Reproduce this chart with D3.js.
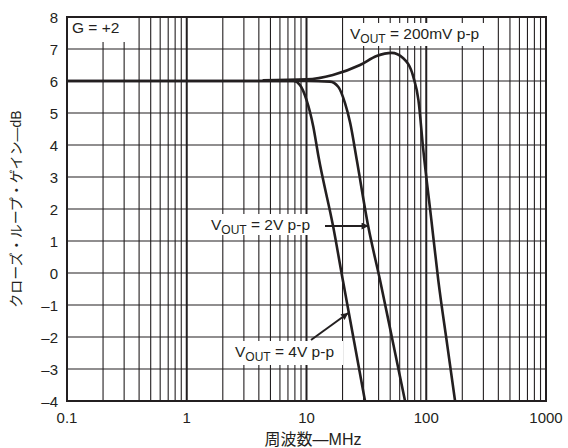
<!DOCTYPE html>
<html>
<head>
<meta charset="utf-8">
<script src="https://cdnjs.cloudflare.com/ajax/libs/d3/7.8.5/d3.min.js"></script>
<style>
  body { margin: 0; background: #fff; }
  text { font-family: "Liberation Sans", Arial, "Noto Sans CJK JP", sans-serif; fill: #231f20; }
</style>
</head>
<body>
<script>
// ===== data =====
var freq200mV = [4.3, 10, 16.6, 28, 38.5, 51.4, 64.3, 78, 86, 94.5, 110, 126, 150, 174];
var gain200mV = [6.02, 6.05, 6.19, 6.5, 6.78, 6.88, 6.71, 6.13, 5.41, 3.84, 1.7, -0.22, -2.27, -4];

var freq2V = [0.1, 10, 15.7, 18.4, 21, 23.2, 26.3, 32.8, 41.1, 52, 66.5];
var gain2V = [6, 6, 5.98, 5.82, 5.3, 4.68, 3.53, 1.45, -0.22, -2.06, -4];

var freq4V = [0.1, 7.8, 8.8, 10, 11.4, 12.6, 16.7, 20.1, 25, 30.8];
var gain4V = [6, 6, 5.88, 5.41, 4.57, 3.63, 1.45, -0.22, -2.15, -4];

var xTicks = [0.1, 1, 10, 100, 1000];
var yTicks = [-4, -3, -2, -1, 0, 1, 2, 3, 4, 5, 6, 7, 8];

var w = 568;
var h = 448;
var margin = {top: 17, right: 22, bottom: 47, left: 67};
var ink = '#231f20';

var svg = d3.select('body')
  .append('svg')
  .attr('width', w)
  .attr('height', h);

/* ===== scales ===== */

var xScale = d3.scaleLog()
  .domain([0.1, 1000])
  .range([margin.left, w - margin.right]);

var yScale = d3.scaleLinear()
  .domain([-4, 8])
  .range([h - margin.bottom, margin.top]);

/* ===== grid ===== */

var minorX = [];
[0.1, 1, 10, 100].forEach(function(dec) {
  for (var k = 2; k <= 9; k++) minorX.push(dec * k);
});

var grid = svg.append('g');

grid.selectAll('.vminor').data(minorX)
  .enter().append('line')
  .attr('x1', function(d) { return xScale(d); })
  .attr('x2', function(d) { return xScale(d); })
  .attr('y1', yScale(8))
  .attr('y2', yScale(-4))
  .attr('stroke', ink)
  .attr('stroke-width', 1.1);

grid.selectAll('.vmajor').data([1, 10, 100])
  .enter().append('line')
  .attr('x1', function(d) { return xScale(d); })
  .attr('x2', function(d) { return xScale(d); })
  .attr('y1', yScale(8))
  .attr('y2', yScale(-4))
  .attr('stroke', ink)
  .attr('stroke-width', 2);

grid.selectAll('.hline').data(yTicks)
  .enter().append('line')
  .attr('x1', xScale(0.1))
  .attr('x2', xScale(1000))
  .attr('y1', function(d) { return yScale(d); })
  .attr('y2', function(d) { return yScale(d); })
  .attr('stroke', ink)
  .attr('stroke-width', 1.2);

/* ===== label boxes (white, covering the grid) ===== */

function boxedLabel(x, y, bx, by, bw, bh, parts) {
  svg.append('rect')
    .attr('x', bx).attr('y', by)
    .attr('width', bw).attr('height', bh)
    .attr('fill', '#fff');
  var t = svg.append('text')
    .attr('x', x).attr('y', y)
    .style('font-size', '15.5px');
  parts.forEach(function(p) {
    var s = t.append('tspan').text(p.t);
    if (p.sub) s.style('font-size', '12px').attr('dy', 4);
    if (p.up) s.attr('dy', -4);
  });
}

boxedLabel(72, 33, 68, 18, 62, 24, [{t: 'G = +2'}]);
boxedLabel(350, 39, 345, 23, 145, 23,
  [{t: 'V'}, {t: 'OUT', sub: true}, {t: ' = 200mV p-p', up: true}]);
boxedLabel(211, 230, 207, 214, 112, 21,
  [{t: 'V'}, {t: 'OUT', sub: true}, {t: ' = 2V p-p', up: true}]);
boxedLabel(235, 357, 231, 341, 112, 24,
  [{t: 'V'}, {t: 'OUT', sub: true}, {t: ' = 4V p-p', up: true}]);

/* ===== curves ===== */

var line = d3.line()
  .x(function(d) { return xScale(d[0]); })
  .y(function(d) { return yScale(d[1]); })
  .curve(d3.curveMonotoneX);

svg.append('clipPath').attr('id', 'plotClip')
  .append('rect')
  .attr('x', margin.left).attr('y', margin.top)
  .attr('width', w - margin.left - margin.right)
  .attr('height', h - margin.top - margin.bottom);

var series = [
  d3.zip(freq4V, gain4V),
  d3.zip(freq2V, gain2V),
  d3.zip(freq200mV, gain200mV)
];

svg.append('g')
  .attr('clip-path', 'url(#plotClip)')
  .selectAll('path').data(series)
  .enter().append('path')
  .attr('d', line)
  .attr('fill', 'none')
  .attr('stroke', ink)
  .attr('stroke-width', 2.6);

/* ===== arrows ===== */

svg.append('defs').append('marker')
  .attr('id', 'head')
  .attr('viewBox', '0 0 10 10')
  .attr('refX', 10).attr('refY', 5)
  .attr('markerWidth', 11).attr('markerHeight', 7)
  .attr('markerUnits', 'userSpaceOnUse')
  .attr('orient', 'auto')
  .append('path')
  .attr('d', 'M0,0 L10,5 L0,10 Z')
  .attr('fill', ink);

var arrows = [
  [325, 226, xScale(33), 226],
  [311, 340, xScale(22.3), yScale(-1.25)]
];
svg.selectAll('.arrow').data(arrows)
  .enter().append('line')
  .attr('x1', function(d) { return d[0]; })
  .attr('y1', function(d) { return d[1]; })
  .attr('x2', function(d) { return d[2]; })
  .attr('y2', function(d) { return d[3]; })
  .attr('stroke', ink)
  .attr('stroke-width', 2)
  .attr('marker-end', 'url(#head)');

/* ===== frame ===== */

svg.append('rect')
  .attr('x', margin.left).attr('y', margin.top)
  .attr('width', w - margin.left - margin.right)
  .attr('height', h - margin.top - margin.bottom)
  .attr('fill', 'none')
  .attr('stroke', ink)
  .attr('stroke-width', 2);

/* ===== tick labels ===== */

svg.selectAll('.ylab').data(yTicks)
  .enter().append('text')
  .attr('x', margin.left - 9)
  .attr('y', function(d) { return yScale(d) + 5.5; })
  .attr('text-anchor', 'end')
  .style('font-size', '15px')
  .text(function(d) { return d < 0 ? '\u2013' + Math.abs(d) : d; });

svg.selectAll('.xlab').data(xTicks)
  .enter().append('text')
  .attr('x', function(d) { return xScale(d); })
  .attr('y', h - margin.bottom + 22)
  .attr('text-anchor', 'middle')
  .style('font-size', '15px')
  .text(function(d) { return d; });

/* ===== axis titles ===== */

svg.append('text')
  .attr('x', 313)
  .attr('y', 445)
  .attr('text-anchor', 'middle')
  .style('font-size', '16px')
  .text('周波数—MHz');

svg.append('text')
  .attr('transform', 'translate(21,' + yScale(2) + ') rotate(-90)')
  .attr('text-anchor', 'middle')
  .style('font-size', '14px')
  .text('クローズ・ループ・ゲイン—dB');
</script>
</body>
</html>
